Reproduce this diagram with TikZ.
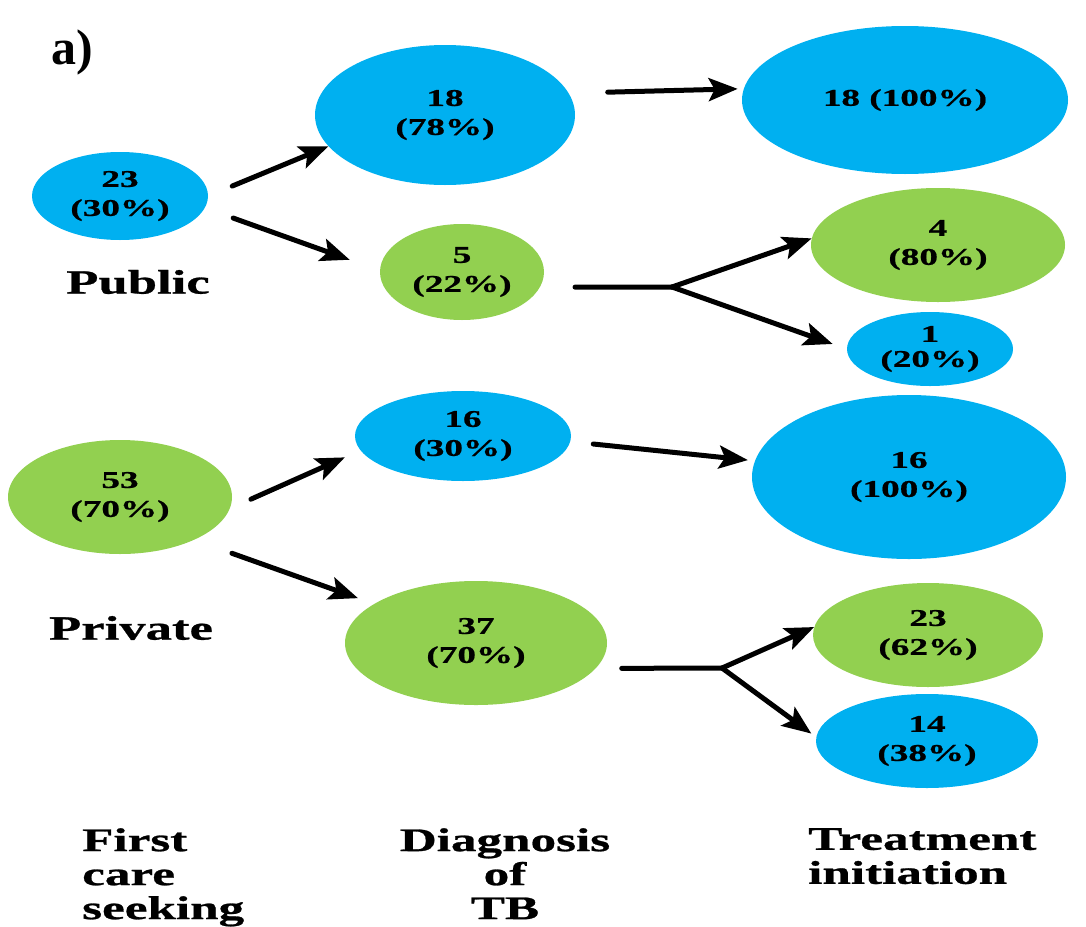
\documentclass[tikz,border=0pt]{standalone}
\usepackage{fontspec}
\setmainfont{Liberation Serif}[FakeStretch=1.55,FakeBold=0.8]
\newfontfamily\plainfont{Liberation Serif}
\usetikzlibrary{shapes.geometric,arrows.meta}
\definecolor{pubblue}{HTML}{00B0F0}
\definecolor{privgreen}{HTML}{92D050}

\begin{document}
\begin{tikzpicture}[x=1pt,y=-1pt,
  bluenode/.style={ellipse, fill=pubblue, inner sep=0pt, align=center, font=\bfseries\fontsize{24}{29}\selectfont},
  greennode/.style={ellipse, fill=privgreen, inner sep=0pt, align=center, font=\bfseries\fontsize{24}{29}\selectfont},
  flow/.style={line width=5pt, line cap=round, -{Stealth[length=29pt,width=23pt,inset=6pt]}},
  stem/.style={line width=5pt, line cap=round},
  steplabel/.style={inner sep=0pt, align=left, font=\bfseries\fontsize{33}{34}\selectfont},
  ]
\useasboundingbox (0,0) rectangle (1086,926);

\node[inner sep=0pt, font=\plainfont\bfseries\fontsize{50}{50}\selectfont] (tag) at (72,52) {a)};

\node[bluenode, minimum width=176pt, minimum height=88pt] (pub) at (120,196) {23\\(30\%)};
\node[greennode, minimum width=224pt, minimum height=114pt] (priv) at (120,497) {53\\(70\%)};
\node[inner sep=0pt, font=\bfseries\fontsize{34}{34}\selectfont] (publbl) at (138,282) {Public};
\node[inner sep=0pt, font=\bfseries\fontsize{34}{34}\selectfont] (privlbl) at (131,628) {Private};

\node[bluenode, minimum width=260pt, minimum height=140pt] (dxA) at (445,115) {18\\(78\%)};
\node[greennode, minimum width=164pt, minimum height=96pt] (dxB) at (462,272) {5\\(22\%)};
\node[bluenode, minimum width=216pt, minimum height=90pt] (dxC) at (463,436) {16\\(30\%)};
\node[greennode, minimum width=262pt, minimum height=124pt] (dxD) at (476,643) {37\\(70\%)};

\node[bluenode, minimum width=326pt, minimum height=148pt] (txA) at (905,100) {18 (100\%)};
\node[greennode, minimum width=254pt, minimum height=114pt] (txB) at (938,245) {4\\(80\%)};
\node[bluenode, minimum width=166pt, minimum height=74pt, font=\bfseries\fontsize{24}{25}\selectfont] (txC) at (930,349) {1\\(20\%)};
\node[bluenode, minimum width=314pt, minimum height=164pt] (txD) at (909,477) {16\\(100\%)};
\node[greennode, minimum width=230pt, minimum height=104pt] (txE) at (928,635) {23\\(62\%)};
\node[bluenode, minimum width=222pt, minimum height=94pt] (txF) at (927,741) {14\\(38\%)};

\coordinate (forkB) at (672,287);
\coordinate (forkD) at (722,668);

\node[steplabel, anchor=north west] (stepone) at (82,828) {First\\care\\seeking};
\node[steplabel, anchor=north, align=center] (steptwo) at (505,828) {Diagnosis\\of\\TB};
\node[steplabel, anchor=north west] (stepthree) at (808,828) {Treatment\\initiation};

\draw[flow, shorten <=26pt] (pub.east) -- (dxA.195);
\draw[flow, shorten <=30pt, shorten >=32pt] (pub.352) -- (dxB.179);
\draw[flow, shorten <=39pt, shorten >=6pt] (dxA.10) -- (txA.176);
\draw[stem, shorten <=35pt] (dxB.349) -- (forkB);
\draw[flow] (forkB) -- (txB.177);
\draw[flow, shorten >=15pt] (forkB) -- (txC.west);
\draw[flow, shorten <=23pt, shorten >=17pt] (priv.354) -- (dxC.188);
\draw[flow, shorten <=40pt, shorten >=17pt] (priv.330) -- (dxD.159);
\draw[flow, shorten <=23pt, shorten >=7pt] (dxC.357) -- (txD.174);
\draw[stem, shorten <=26pt] (dxD.348) -- (forkD);
\draw[flow] (forkD) -- (txE.176);
\draw[flow, shorten >=6pt] (forkD) -- (txF.178);

\end{tikzpicture}
\end{document}
